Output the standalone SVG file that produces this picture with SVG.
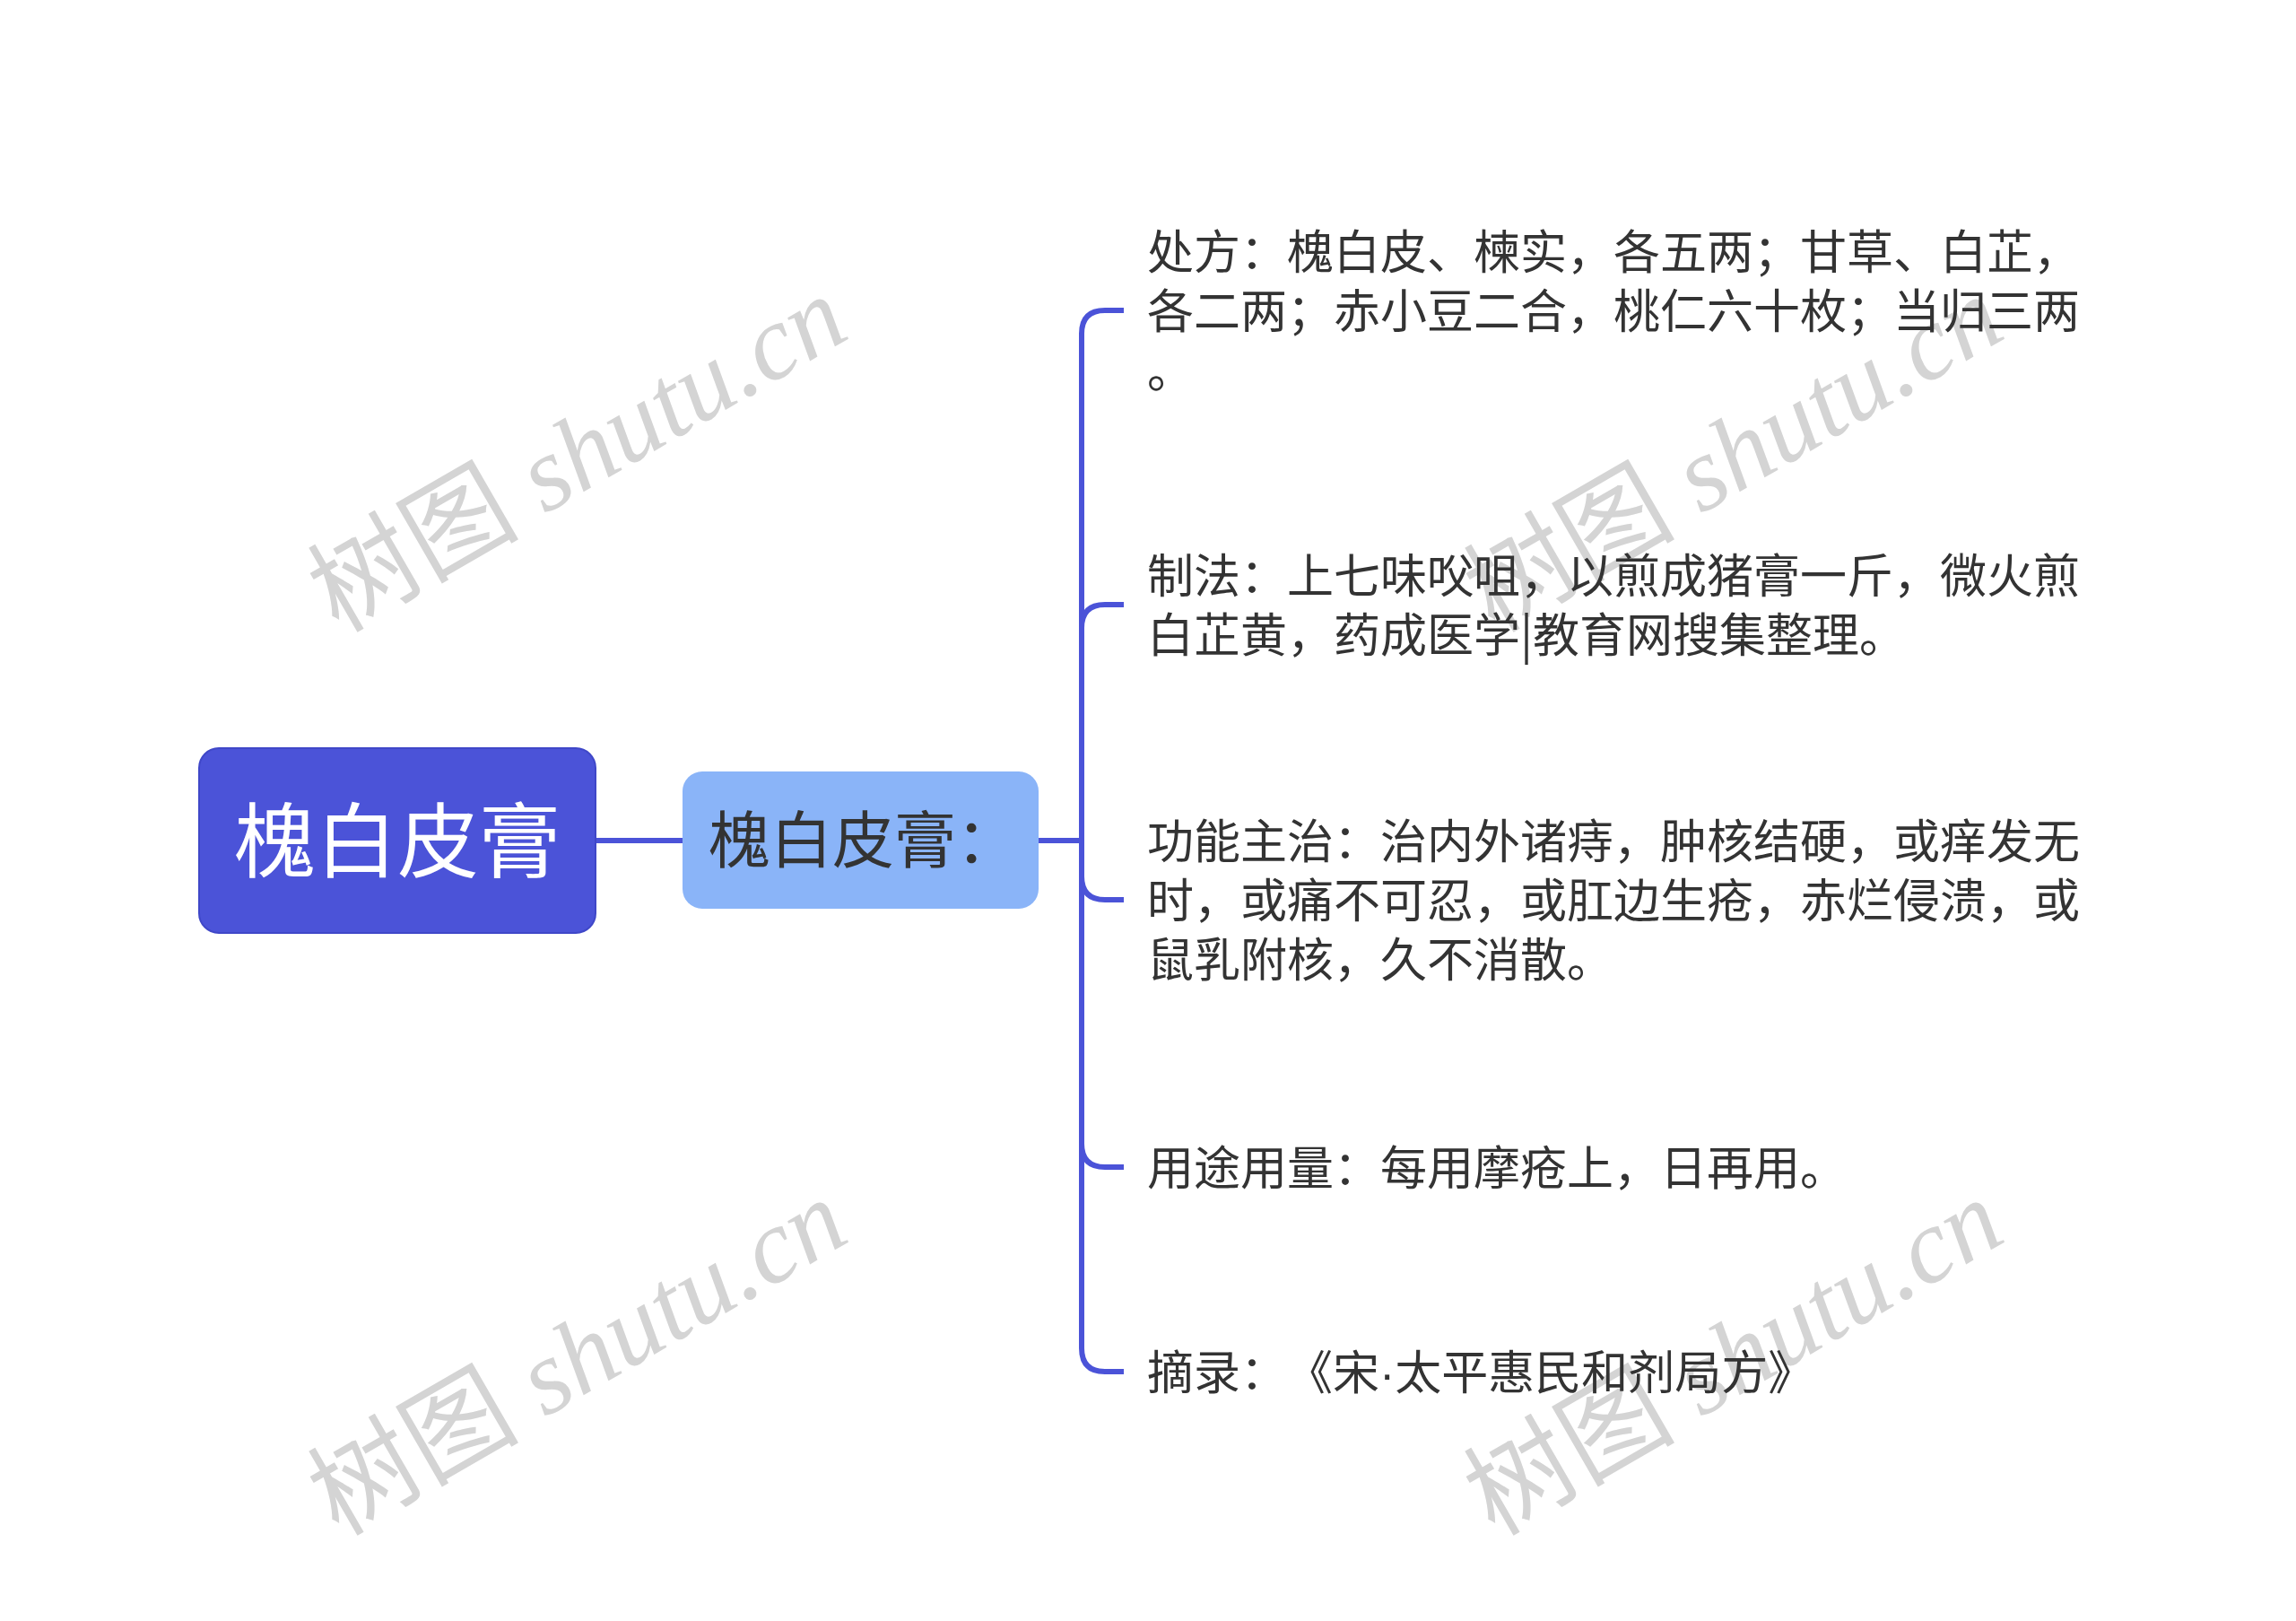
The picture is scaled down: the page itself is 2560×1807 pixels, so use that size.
<svg xmlns="http://www.w3.org/2000/svg" width="2560" height="1807" viewBox="0 0 2560 1807">
<style>
.bg{fill:#ffffff}
.wm{font-family:"Liberation Serif","Noto Sans CJK SC",serif;font-size:118px;fill:#d4d4d4}
.wm .lat{font-style:italic}
.conn{fill:none;stroke:#4b53d8;stroke-width:6;stroke-linecap:butt;stroke-linejoin:round}
.root rect{fill:#4b53d8;stroke:#3f47c8;stroke-width:2}
.root text{font-family:"Noto Sans CJK SC","Noto Sans",sans-serif;font-size:91px;fill:#ffffff;text-anchor:middle}
.sub rect{fill:#8ab4f8}
.sub text{font-family:"Noto Sans CJK SC","Noto Sans",sans-serif;font-size:69px;fill:#333333}
.leaf text{font-family:"Noto Sans CJK SC","Noto Sans",sans-serif;font-size:52px;fill:#333333}
.narrow{font-family:"Liberation Sans",sans-serif}
</style>
<rect class="bg" x="0" y="0" width="2560" height="1807"/>
<g id="watermarks">
<text class="wm" transform="translate(644 506) rotate(-30)" text-anchor="middle" y="40">树图 <tspan class="lat">shutu.cn</tspan></text>
<text class="wm" transform="translate(1933 506) rotate(-30)" text-anchor="middle" y="40">树图 <tspan class="lat">shutu.cn</tspan></text>
<text class="wm" transform="translate(644 1513) rotate(-30)" text-anchor="middle" y="40">树图 <tspan class="lat">shutu.cn</tspan></text>
<text class="wm" transform="translate(1933 1513) rotate(-30)" text-anchor="middle" y="40">树图 <tspan class="lat">shutu.cn</tspan></text>
</g>
<g id="connectors">
<path class="conn" d="M664 937 H761"/>
<path class="conn" d="M1158 937 H1206 V372 Q1206 346 1232 346 H1253"/>
<path class="conn" d="M1158 937 H1206 V700 Q1206 674 1232 674 H1253"/>
<path class="conn" d="M1158 937 H1206 V977 Q1206 1003 1232 1003 H1253"/>
<path class="conn" d="M1158 937 H1206 V1275 Q1206 1301 1232 1301 H1253"/>
<path class="conn" d="M1158 937 H1206 V1503 Q1206 1529 1232 1529 H1253"/>
</g>
<g id="root" class="root">
<rect x="222" y="834" width="442" height="206" rx="22" ry="22"/>
<text x="443" y="971">槐白皮膏</text>
</g>
<g id="sub" class="sub">
<rect x="761" y="860" width="397" height="153" rx="22" ry="22"/>
<text x="790" y="962">槐白皮膏：</text>
</g>
<g id="leaf1" class="leaf">
<text x="1279" y="300">处方：槐白皮、楝实，各五两；甘草、白芷，</text>
<text x="1279" y="366">各二两；赤小豆二合，桃仁六十枚；当归三两</text>
<text x="1279" y="432">。</text>
</g>
<g id="leaf2" class="leaf">
<text x="1279" y="661">制法：上七味㕮咀，以煎成猪膏一斤，微火煎</text>
<text x="1279" y="727">白芷黄，药成医学|教育网搜集整理。</text>
</g>
<g id="leaf3" class="leaf">
<text x="1279" y="957">功能主治：治内外诸痔，肿核结硬，或痒发无</text>
<text x="1279" y="1023">时，或痛不可忍，或肛边生疮，赤烂侵溃，或</text>
<text x="1279" y="1089">鼠乳附核，久不消散。</text>
</g>
<g id="leaf4" class="leaf">
<text x="1279" y="1321">用途用量：每用摩疮上，日再用。</text>
</g>
<g id="leaf5" class="leaf">
<text x="1279" y="1549">摘录：<tspan dx="25">《宋</tspan><tspan class="narrow">·</tspan>太平惠民和剂局方》</text>
</g>
</svg>
